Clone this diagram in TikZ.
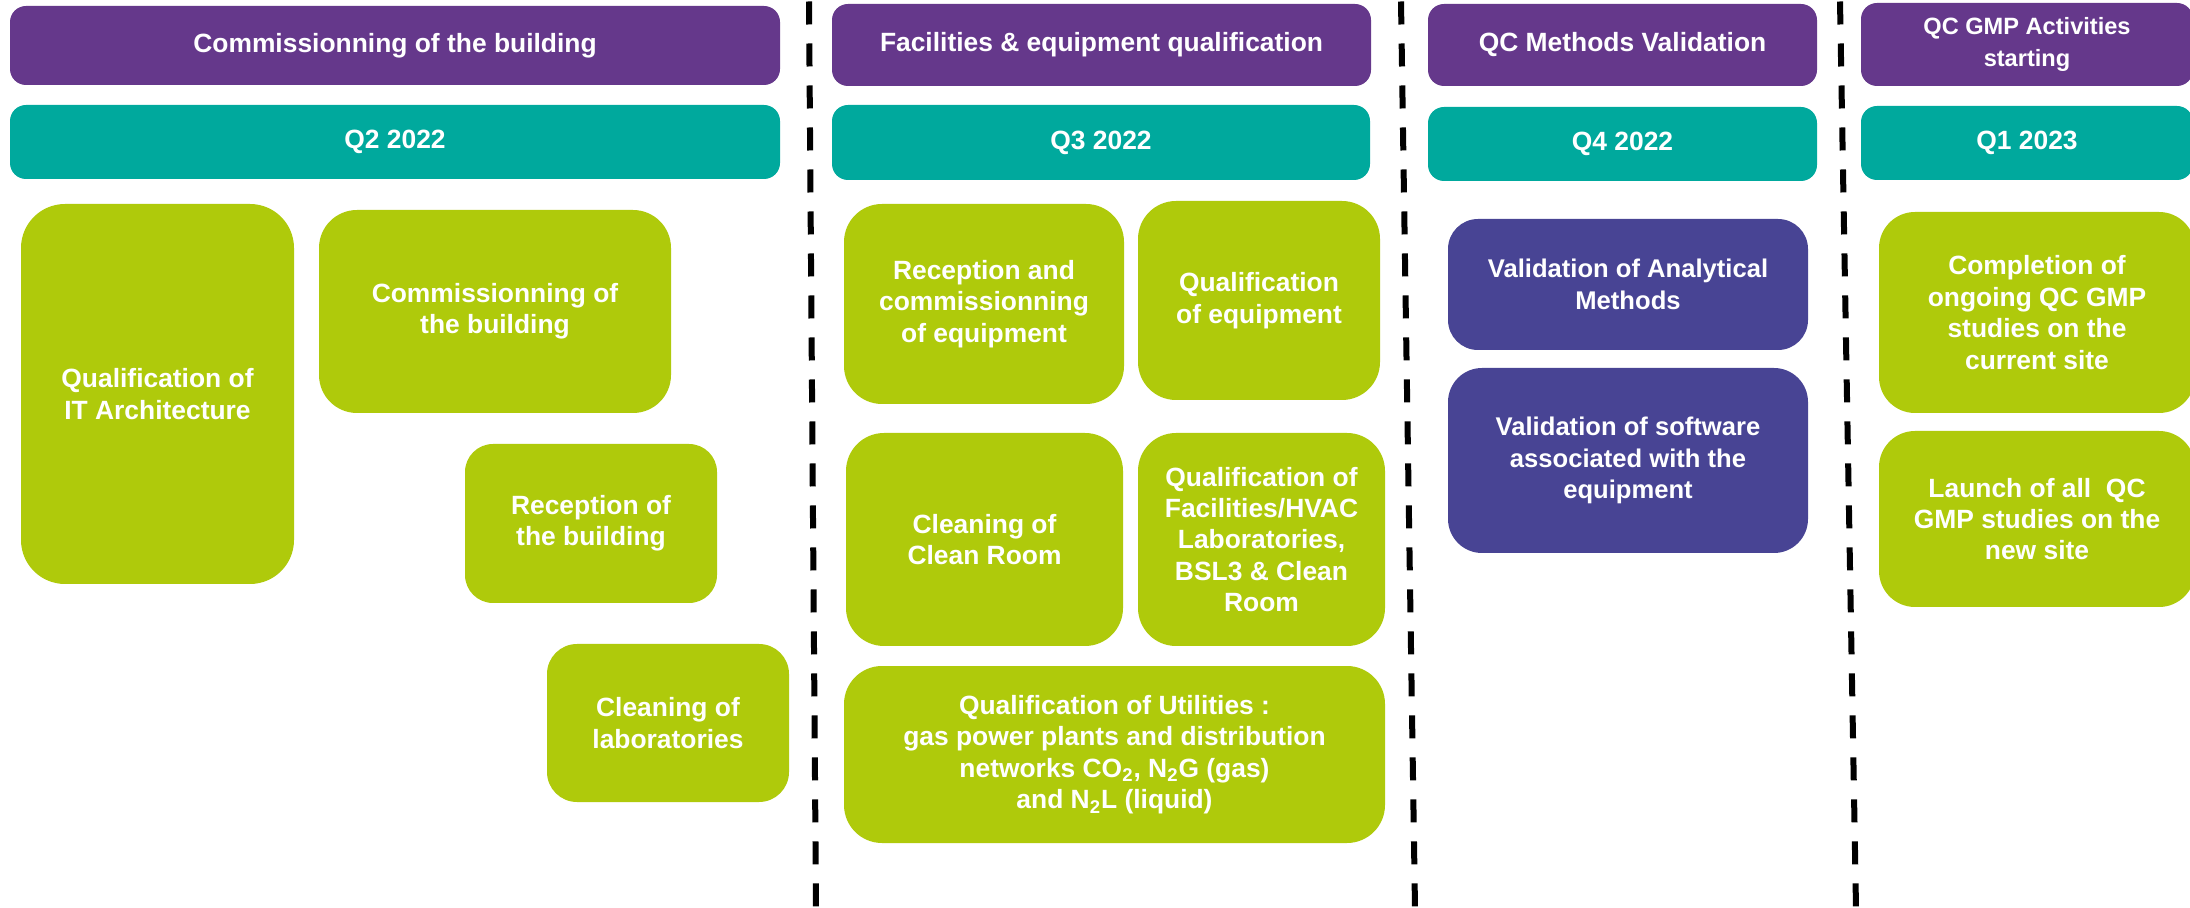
\documentclass[tikz,border=0pt]{standalone}
\usepackage{fontspec}
\setmainfont{Liberation Sans}
\definecolor{hdrpurple}{RGB}{101,56,139}
\definecolor{qteal}{RGB}{0,169,157}
\definecolor{lime}{RGB}{175,202,11}
\definecolor{indigo}{RGB}{72,68,148}
\begin{document}
\begin{tikzpicture}[x=0.5pt,y=-0.5pt,
  boxbase/.style={text=white, align=center, inner sep=0pt,
    font=\bfseries\fontsize{13.2}{15.7}\selectfont},
  hdr/.style={boxbase, fill=hdrpurple, rounded corners=8pt},
  qtr/.style={boxbase, fill=qteal, rounded corners=8pt},
  grn/.style={boxbase, fill=lime},
  ind/.style={boxbase, fill=indigo, font=\bfseries\fontsize{12.8}{15.7}\selectfont},
  sep/.style={line width=3pt, dash pattern=on 11.5pt off 9.5pt}]
\useasboundingbox (0,0) rectangle (2190,908);
\clip (0,0) rectangle (2190,908);

% Column 1
\node[hdr, minimum width=385pt, minimum height=39.5pt] (h1) at (395,45.5) {Commissionning of the building};
\node[qtr, minimum width=385pt, minimum height=37pt] (q2) at (395,142) {Q2 2022};
\node[grn, minimum width=136.5pt, minimum height=190pt, rounded corners=22pt] (it) at (157.5,394) {Qualification of\\IT Architecture};
\node[grn, minimum width=176pt, minimum height=101.5pt, rounded corners=19pt] (comm) at (495,311.5) {Commissionning of\\the building};
\node[grn, minimum width=126pt, minimum height=79.5pt, rounded corners=14pt] (recb) at (591,523.5) {Reception of\\the building};
\node[grn, minimum width=121pt, minimum height=79pt, rounded corners=15pt] (cleanlab) at (668,723) {Cleaning of\\laboratories};

% Column 2
\node[hdr, minimum width=269.5pt, minimum height=41pt] (h2) at (1101.5,45) {Facilities \& equipment qualification};
\node[qtr, minimum width=269pt, minimum height=37.5pt] (q3) at (1101,142.5) {Q3 2022};
\node[grn, minimum width=140pt, minimum height=100pt, rounded corners=19pt] (recq) at (984,304) {Reception and\\commissionning\\of equipment};
\node[grn, minimum width=121pt, minimum height=99.5pt, rounded corners=19pt] (qeq) at (1259,300.5) {Qualification\\of equipment};
\node[grn, minimum width=138.5pt, minimum height=106.5pt, rounded corners=19pt] (cleanroom) at (984.5,539.5) {Cleaning of\\Clean Room};
\node[grn, minimum width=123.5pt, minimum height=106.5pt, rounded corners=19pt] (fac) at (1261.5,539.5) {Qualification of\\Facilities/HVAC\\Laboratories,\\BSL3 \& Clean\\Room};
\node[grn, minimum width=270.5pt, minimum height=88.5pt, rounded corners=19pt] (util) at (1114.5,754.5) {Qualification of Utilities :\\gas power plants and distribution\\networks CO\textsubscript{2}, N\textsubscript{2}G (gas)\\and N\textsubscript{2}L (liquid)};

% Column 3
\node[hdr, minimum width=194.5pt, minimum height=41pt] (h3) at (1622.5,45) {QC Methods Validation};
\node[qtr, minimum width=194.5pt, minimum height=37pt] (q4) at (1622.5,144) {Q4 2022};
\node[ind, minimum width=180pt, minimum height=65.5pt, rounded corners=15pt] (vam) at (1628,284.5) {Validation of Analytical\\Methods};
\node[ind, minimum width=180pt, minimum height=92.5pt, rounded corners=17pt] (vsw) at (1628,460.5) {Validation of software\\associated with the\\equipment};

% Column 4
\node[hdr, minimum width=166pt, minimum height=41.5pt, font=\bfseries\fontsize{11.8}{15.7}\selectfont] (h4) at (2027,44.5) {QC GMP Activities\\starting};
\node[qtr, minimum width=166pt, minimum height=37pt] (q1) at (2027,143) {Q1 2023};
\node[grn, minimum width=158pt, minimum height=100.5pt, rounded corners=18pt] (comp) at (2037,312.5) {Completion of\\ongoing QC GMP\\studies on the\\current site};
\node[grn, minimum width=158pt, minimum height=88pt, rounded corners=18pt] (launch) at (2037,519) {Launch of all~ QC\\GMP studies on the\\new site};

% Separators
\coordinate (s1t) at (809,1.5);
\coordinate (s1b) at (816,908);
\coordinate (s2t) at (1401,1.5);
\coordinate (s2b) at (1415,908);
\coordinate (s3t) at (1840,1.5);
\coordinate (s3b) at (1856,908);
\draw[sep] (s1t) -- (s1b);
\draw[sep] (s2t) -- (s2b);
\draw[sep] (s3t) -- (s3b);
\end{tikzpicture}
\end{document}
